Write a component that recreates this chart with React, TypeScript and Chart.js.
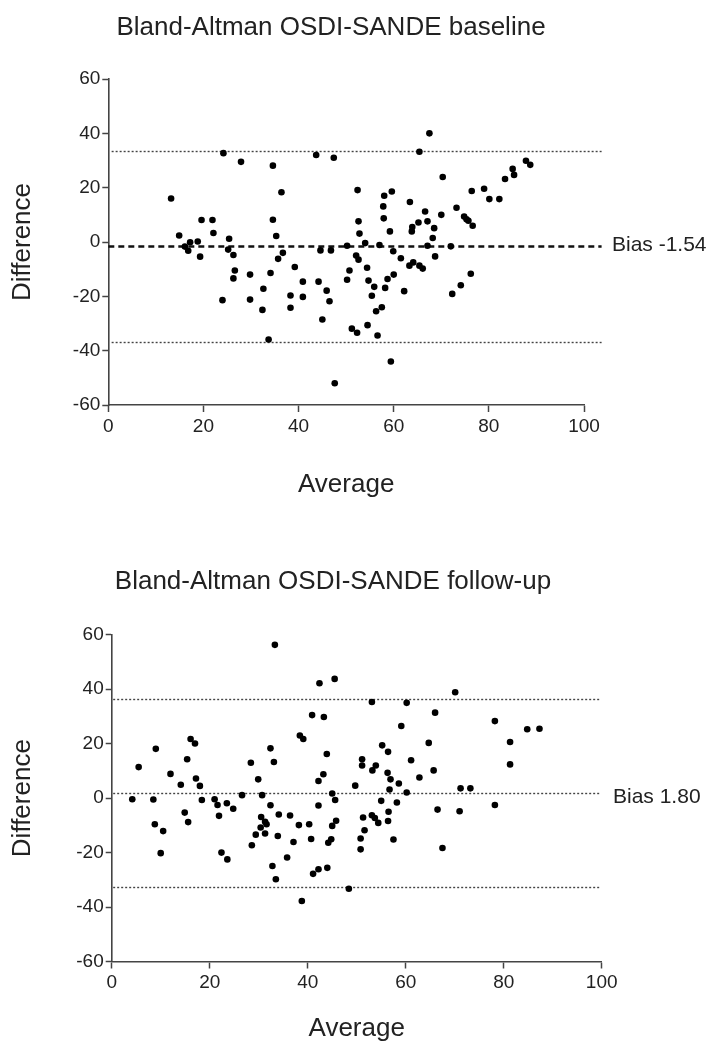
import React, { useEffect, useRef } from "react";
import { Chart, registerables } from "chart.js";

Chart.register(...registerables);

const FONT = "'Liberation Sans', Arial, Helvetica, sans-serif";

// ---------- Baseline data ----------
const baselineAverage = [
  13.2, 14.9, 16.1, 16.8, 17.2, 18.8, 19.3, 19.6, 21.9, 22.1,
  24.2, 24.0, 25.4, 25.2, 26.3, 26.6, 26.3, 27.9, 29.8, 29.8,
  32.6, 32.4, 33.7, 34.1, 34.6, 34.6, 35.3, 35.7, 36.7, 36.4,
  39.2, 38.3, 38.3, 40.9, 40.9, 43.7, 44.2, 44.6, 45.0, 45.9,
  46.5, 46.8, 47.4, 47.6, 50.2, 50.7, 50.2, 51.2, 52.3, 52.1,
  52.6, 52.4, 52.6, 52.8, 54.0, 54.4, 54.5, 54.7, 55.4, 55.9,
  56.3, 56.6, 57.0, 57.5, 57.8, 57.9, 58.0, 58.2, 58.7, 59.2,
  59.4, 59.6, 59.9, 60.0, 61.5, 62.2, 63.3, 63.4, 63.8, 63.9,
  64.1, 65.2, 65.4, 65.4, 66.1, 66.6, 67.1, 67.1, 67.5, 68.2,
  68.5, 68.7, 70.0, 70.3, 72.0, 72.3, 73.2, 74.1, 74.8, 75.3,
  75.7, 76.2, 76.4, 76.6, 79.0, 80.1, 82.2, 83.4, 85.0, 85.3,
  87.8, 88.7,
];
const baselineDifference = [
  16.0, 2.4, -1.7, -3.2, -0.1, 0.2, -5.4, 8.1, 8.1, 3.3,
  32.7, -21.4, 1.2, -2.8, -4.8, -10.5, -13.4, 29.5, -12.0, -21.2,
  -17.2, -25.0, -35.9, -11.4, 28.1, 8.2, 2.2, -6.2, -4.0, 18.3,
  -9.2, -19.7, -24.2, -14.6, -20.2, 32.0, -14.6, -3.1, -28.5, -17.9,
  -21.8, -3.1, 31.0, -52.0, -1.4, -10.5, -13.9, -31.9, -33.4, -5.0,
  -6.5, 19.1, 7.6, 3.1, -0.4, -9.5, -30.6, -14.2, -19.8, -16.5,
  -25.5, -34.4, -1.1, -24.0, 13.1, 8.7, 17.0, -16.9, -13.6, 3.9,
  -44.0, 18.6, -3.4, -12.0, -6.0, -18.1, -8.7, 14.7, 3.9, 5.5,
  -7.5, 7.2, 33.2, -8.7, -9.8, 11.2, 7.6, -1.4, 40.0, 1.5,
  5.1, -5.3, 10.0, 23.9, -1.6, -19.1, 12.6, -15.9, 9.4, 8.4,
  7.8, -11.7, 18.8, 6.0, 19.6, 15.8, 15.8, 23.2, 26.9, 24.7,
  29.9, 28.4,
];
const baselineBias = -1.54;
const baselineUpper = 33.61;
const baselineLower = -36.69;

// ---------- Follow-up data ----------
const followAverage = [
  4.2, 5.5, 8.5, 9.0, 8.8, 10.5, 10.0, 12.0, 14.1, 14.9,
  15.4, 15.6, 16.1, 17.0, 17.2, 18.0, 18.4, 21.0, 21.6, 21.9,
  22.4, 23.5, 23.6, 24.8, 26.6, 28.4, 28.6, 29.4, 29.9, 30.4,
  30.5, 30.7, 31.3, 31.6, 31.3, 32.4, 32.4, 32.8, 33.1, 33.3,
  33.5, 33.9, 34.1, 35.8, 36.4, 37.1, 38.2, 38.4, 39.1, 38.8,
  40.3, 40.7, 40.9, 41.1, 42.2, 42.2, 42.2, 42.4, 43.2, 43.3,
  43.9, 44.0, 44.2, 44.8, 45.0, 45.0, 45.6, 45.8, 45.5, 48.4,
  49.7, 50.8, 50.8, 51.1, 51.1, 51.3, 51.6, 53.1, 53.9, 53.2,
  53.1, 53.7, 54.4, 55.0, 55.2, 56.4, 56.3, 56.9, 56.7, 56.5,
  56.4, 57.5, 58.2, 58.6, 59.1, 60.2, 60.2, 61.1, 62.8, 64.7,
  65.7, 66.0, 66.5, 67.5, 70.1, 71.0, 71.2, 73.2, 78.2, 78.2,
  81.3, 81.3, 84.8, 87.3,
];
const followDifference = [
  -0.4, 11.4, -0.5, 18.1, -9.6, -12.1, -20.2, 8.9, 4.9, -5.3,
  14.3, -8.8, 21.7, 20.1, 7.2, 4.5, -0.7, -0.4, -2.5, -6.5,
  -20.0, -1.9, -22.5, -3.9, 1.1, 13.0, -17.3, -13.4, 6.9, -10.8,
  -6.9, 1.1, -8.7, -9.6, -13.0, 18.3, -2.6, -24.9, 13.3, 56.3,
  -29.8, -13.9, -6.0, -21.8, -6.4, -16.1, -9.9, 23.0, 21.7, -37.8,
  -9.6, -15.0, 30.5, -27.8, -26.1, -2.7, 6.3, 42.2, 8.8, 29.8,
  16.2, -25.6, -16.4, -15.1, 1.7, -10.2, -0.7, -8.3, 43.8, -33.3,
  4.6, -14.8, -18.8, 14.3, 12.0, -7.1, -11.8, 35.3, 12.0, 10.2,
  -6.3, -7.3, -9.1, -1.0, 19.4, 17.0, 9.3, 6.9, 3.2, -5.0,
  -8.4, -15.2, -1.6, 5.4, 26.5, 35.0, 2.1, 13.9, 7.6, 20.3,
  10.2, 31.4, -4.2, -18.3, 38.9, -4.8, 3.6, 3.6, 28.3, -2.5,
  20.6, 12.4, 25.3, 25.5,
];
const followBias = 1.8;
const followUpper = 36.4;
const followLower = -32.8;

const yTicks = [-60, -40, -20, 0, 20, 40, 60];
const xTicks = [0, 20, 40, 60, 80, 100];

type Geom = {
  yWidth: number;
  rightPad: number;
  topPad: number;
  xHeight: number;
  xTitlePadBottom: number;
  yTitlePadTop: number;
  titleX: number;
  titleY: number;
  biasX: number;
  biasY: number;
  lineStart: number;
  lineEnd: number;
  biasStart: number;
  biasDashed: boolean;
};

const refPlugin = {
  id: "baRef",
  beforeDatasetsDraw(chart: any, _args: any, opts: any) {
    const { ctx, scales } = chart;
    const x = scales.x;
    const y = scales.y;
    const x0 = x.getPixelForValue(opts.lineStart);
    const x1 = x.getPixelForValue(opts.lineEnd);
    ctx.save();
    ctx.strokeStyle = "#444";
    ctx.lineWidth = 1.4;
    ctx.setLineDash([2, 2]);
    for (const v of [opts.upper, opts.lower]) {
      const py = Math.round(y.getPixelForValue(v)) + 0.5;
      ctx.beginPath();
      ctx.moveTo(x0, py);
      ctx.lineTo(x1, py);
      ctx.stroke();
    }
    const pb = y.getPixelForValue(opts.bias);
    if (opts.biasDashed) {
      ctx.strokeStyle = "#111";
      ctx.lineWidth = 2.4;
      ctx.setLineDash([6, 4]);
    }
    ctx.beginPath();
    ctx.moveTo(x.getPixelForValue(opts.biasStart), Math.round(pb) + 0.5);
    ctx.lineTo(x1, Math.round(pb) + 0.5);
    ctx.stroke();
    ctx.restore();
  },
  afterDraw(chart: any, _args: any, opts: any) {
    const { ctx } = chart;
    ctx.save();
    ctx.fillStyle = "#222";
    ctx.font = `26px ${FONT}`;
    ctx.textAlign = "center";
    ctx.textBaseline = "middle";
    ctx.fillText(opts.title, opts.titleX, opts.titleY);
    ctx.font = `21px ${FONT}`;
    ctx.textAlign = "left";
    ctx.fillText(opts.biasLabel, opts.biasX, opts.biasY);
    ctx.restore();
  },
};

function makeConfig(
  avg: number[],
  diff: number[],
  bias: number,
  upper: number,
  lower: number,
  title: string,
  biasLabel: string,
  g: Geom
): any {
  const points = avg.map((a, i) => ({ x: a, y: diff[i] }));
  const axisColor = "#444";
  return {
    type: "scatter",
    data: {
      datasets: [
        {
          data: points,
          pointRadius: 3.3,
          pointHoverRadius: 3.3,
          backgroundColor: "#000",
          borderWidth: 0,
        },
      ],
    },
    plugins: [refPlugin],
    options: {
      responsive: false,
      animation: false,
      layout: { padding: { left: 0, right: g.rightPad, top: g.topPad, bottom: 0 } },
      plugins: {
        legend: { display: false },
        tooltip: { enabled: false },
        title: { display: false },
        baRef: {
          bias,
          upper,
          lower,
          title,
          biasLabel,
          titleX: g.titleX,
          titleY: g.titleY,
          biasX: g.biasX,
          biasY: g.biasY,
          lineStart: g.lineStart,
          lineEnd: g.lineEnd,
          biasStart: g.biasStart,
          biasDashed: g.biasDashed,
        },
      },
      scales: {
        x: {
          type: "linear",
          min: 0,
          max: 100,
          afterBuildTicks: (s: any) => {
            s.ticks = xTicks.map((v) => ({ value: v }));
          },
          afterFit: (s: any) => {
            s.height = g.xHeight;
          },
          grid: {
            drawOnChartArea: false,
            drawTicks: true,
            tickLength: 7,
            tickColor: axisColor,
            tickWidth: 1.5,
          },
          border: { display: true, color: axisColor, width: 1.6 },
          ticks: {
            color: "#222",
            font: { family: FONT, size: 19 },
            padding: 3,
            maxRotation: 0,
          },
          title: {
            display: true,
            text: "Average",
            color: "#222",
            font: { family: FONT, size: 26 },
            padding: { top: 0, bottom: g.xTitlePadBottom },
          },
        },
        y: {
          type: "linear",
          min: -60,
          max: 60,
          afterBuildTicks: (s: any) => {
            s.ticks = yTicks.map((v) => ({ value: v }));
          },
          afterFit: (s: any) => {
            s.width = g.yWidth;
          },
          grid: {
            drawOnChartArea: false,
            drawTicks: true,
            tickLength: 6,
            tickColor: axisColor,
            tickWidth: 1.5,
          },
          border: { display: true, color: axisColor, width: 1.6 },
          ticks: {
            color: "#222",
            font: { family: FONT, size: 19 },
            padding: 2,
          },
          title: {
            display: true,
            text: "Difference",
            color: "#222",
            font: { family: FONT, size: 26 },
            padding: { top: g.yTitlePadTop, bottom: 0 },
          },
        },
      },
    },
  };
}

const topGeom: Geom = {
  yWidth: 108.3,
  rightPad: 135,
  topPad: 79,
  xHeight: 119,
  xTitlePadBottom: 23.4,
  yTitlePadTop: 7.4,
  titleX: 331,
  titleY: 28,
  biasX: 612,
  biasY: 245,
  lineStart: 0.7,
  lineEnd: 103.7,
  biasStart: 0,
  biasDashed: true,
};

const bottomGeom: Geom = {
  yWidth: 111.7,
  rightPad: 117.3,
  topPad: 110.8,
  xHeight: 86.5,
  xTitlePadBottom: 3.4,
  yTitlePadTop: 7.4,
  titleX: 333,
  titleY: 58,
  biasX: 613,
  biasY: 273,
  lineStart: 0.3,
  lineEnd: 99.5,
  biasStart: 0.3,
  biasDashed: false,
};

export default function App() {
  const topRef = useRef<HTMLCanvasElement | null>(null);
  const botRef = useRef<HTMLCanvasElement | null>(null);

  useEffect(() => {
    const c1 = new Chart(
      topRef.current as HTMLCanvasElement,
      makeConfig(
        baselineAverage,
        baselineDifference,
        baselineBias,
        baselineUpper,
        baselineLower,
        "Bland-Altman OSDI-SANDE baseline",
        "Bias -1.54",
        topGeom
      )
    );
    const c2 = new Chart(
      botRef.current as HTMLCanvasElement,
      makeConfig(
        followAverage,
        followDifference,
        followBias,
        followUpper,
        followLower,
        "Bland-Altman OSDI-SANDE follow-up",
        "Bias 1.80",
        bottomGeom
      )
    );
    return () => {
      c1.destroy();
      c2.destroy();
    };
  }, []);

  return (
    <div
      style={{
        position: "fixed",
        left: 0,
        top: 0,
        width: 719,
        height: 1048,
        background: "#fff",
        overflow: "hidden",
      }}
    >
      <canvas
        ref={topRef}
        width={719}
        height={524}
        style={{ position: "absolute", left: 0, top: 0, width: 719, height: 524 }}
      />
      <canvas
        ref={botRef}
        width={719}
        height={524}
        style={{ position: "absolute", left: 0, top: 524, width: 719, height: 524 }}
      />
    </div>
  );
}
